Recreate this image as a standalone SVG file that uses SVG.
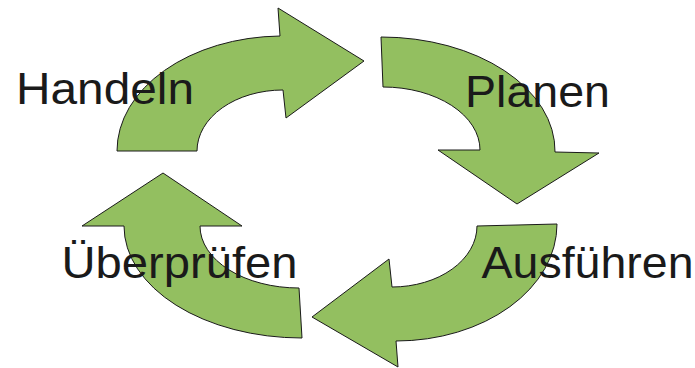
<svg xmlns="http://www.w3.org/2000/svg" width="695" height="368" viewBox="0 0 695 368">
<style>
.arrow{fill:#93bf60;stroke:#1a1a1a;stroke-width:1;stroke-linejoin:miter}
.lbl{font-family:"Liberation Sans",Arial,sans-serif;font-size:44px;fill:#1a1a1a}
</style>
<rect width="695" height="368" fill="#ffffff"/>
<g id="connectors">
<path id="arrow-handeln" class="arrow" d="M117,151 A166,115 0 0 1 280,36 L278,8 L364,61 L286,118 L283,90 A86,61 0 0 0 197,151 Z"/>
<path id="arrow-planen" class="arrow" d="M381,37 A174,114 0 0 1 555,152 L599,153 L517,204 L438,150 L480,150 A97,63 0 0 0 383,87 Z"/>
<path id="arrow-ausfuehren" class="arrow" d="M557,224 A161,117 0 0 1 396,341 L398,367 L312,317 L389,259 L392,287 A85,61 0 0 0 477,226 Z"/>
<path id="arrow-ueberpruefen" class="arrow" d="M302,338 A178,112 0 0 1 124,226 L82,226 L163,173 L242,226 L200,226 A99,62 0 0 0 299,288 Z"/>
</g>
<g id="node-handeln"><text class="lbl" x="16" y="103.5" textLength="178" lengthAdjust="spacingAndGlyphs">Handeln</text></g>
<g id="node-planen"><text class="lbl" x="465" y="106.7" textLength="145" lengthAdjust="spacingAndGlyphs">Planen</text></g>
<g id="node-ausfuehren"><text class="lbl" x="481.5" y="277.7" textLength="212" lengthAdjust="spacingAndGlyphs">Ausführen</text></g>
<g id="node-ueberpruefen"><text class="lbl" x="61.5" y="278.3" textLength="236" lengthAdjust="spacingAndGlyphs">Überprüfen</text></g>
</svg>
